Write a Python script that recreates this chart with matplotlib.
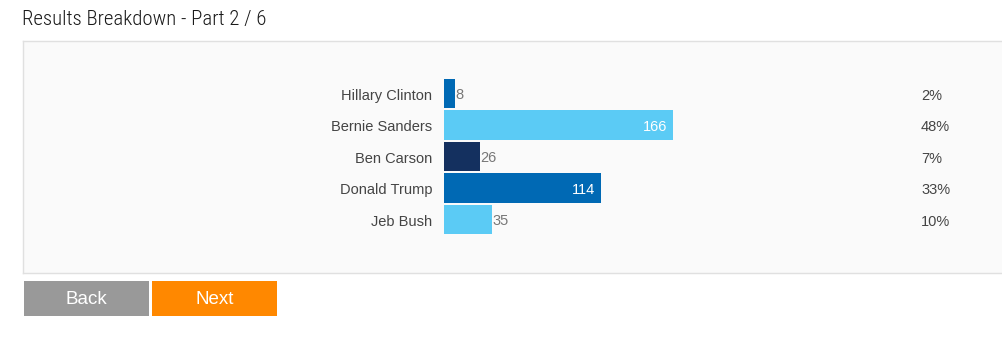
import matplotlib
matplotlib.use("Agg")
import matplotlib.pyplot as plt
from matplotlib.patches import Rectangle
from matplotlib.transforms import blended_transform_factory

candidates = ["Hillary Clinton", "Bernie Sanders", "Ben Carson", "Donald Trump", "Jeb Bush"]
votes = [8, 166, 26, 114, 35]
percents = ["2%", "48%", "7%", "33%", "10%"]
colors = ["#0069b4", "#5bcbf5", "#14305f", "#0069b4", "#5bcbf5"]
title = "Results Breakdown - Part 2 / 6"
buttons = ["Back", "Next"]

W, H = 1003, 358
fig = plt.figure(figsize=(W / 100, H / 100), dpi=100)
fig.patch.set_facecolor("white")

def fx(px):
    return px / W

def fy(py):
    return 1 - py / H

font = ["Liberation Sans", "DejaVu Sans"]

# Title
fig.text(fx(22), fy(19), title, fontsize=15, color="#1a1a1a", va="center", ha="left",
         family=["Roboto Condensed", "Roboto", "DejaVu Sans"], fontstretch="condensed",
         fontweight="light")

# Panel background
bg = fig.add_axes([fx(23), fy(273), fx(W - 23) + 0.01, (273 - 41) / H])
bg.set_facecolor("#fafafa")
bg.set_xticks([]); bg.set_yticks([])
for s in bg.spines.values():
    s.set_color("#e0e0e0")
    s.set_linewidth(1)
bg.set_zorder(0)

# Bar axes
scale = 229 / 166  # px per vote
left_px = 444
top_px, bot_px = 77.75, 235.25
ax = fig.add_axes([fx(left_px), fy(bot_px), fx(W - left_px), (bot_px - top_px) / H])
ax.set_zorder(1)
ax.patch.set_alpha(0)
ax.set_xlim(0, (W - left_px) / scale)
ax.set_ylim(len(candidates) - 0.5, -0.5)
ypos = list(range(len(candidates)))
ax.barh(ypos, votes, height=0.95, color=colors)
ax.set_yticks([y + 0.03 for y in ypos])
ax.set_yticklabels(candidates, fontsize=10.5, color="#444444", family=font)
ax.tick_params(axis="y", length=0, pad=8.6)
ax.set_xticks([])
for s in ax.spines.values():
    s.set_visible(False)

for y, v in zip(ypos, votes):
    if v * scale > 60:
        ax.text(v - 6 / scale, y + 0.06, str(v), ha="right", va="center", color="white",
                fontsize=10.5, family=font)
    else:
        ax.text(v, y + 0.06, str(v), ha="left", va="center", color="#777777",
                fontsize=10.5, family=font)

tr = blended_transform_factory(fig.transFigure, ax.transData)
for y, p in zip(ypos, percents):
    ax.text(fx(921), y + 0.07, p, transform=tr, ha="left", va="center", color="#444444",
            fontsize=10.5, family=font)

# Buttons
btn_colors = ["#999999", "#ff8800"]
btn_x = [24, 152]
for label, c, x0 in zip(buttons, btn_colors, btn_x):
    fig.patches.append(Rectangle((fx(x0), fy(316)), fx(125), (316 - 281) / H,
                                 transform=fig.transFigure, facecolor=c, edgecolor="none"))
    fig.text(fx(x0 + 62.5), fy(299), label, ha="center", va="center", color="white",
             fontsize=13.5, family=font)

fig.savefig("out.png", dpi=100, facecolor="white")
